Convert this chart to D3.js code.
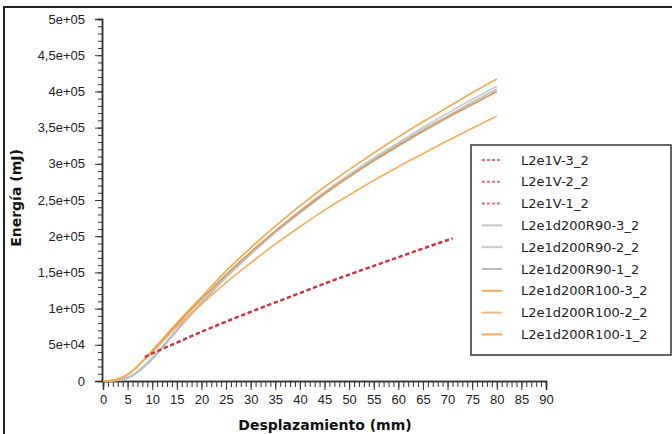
<!DOCTYPE html>
<html>
<head>
<meta charset="utf-8">
<script src="https://cdn.jsdelivr.net/npm/d3@7"></script>
<style>
  body { margin: 0; background: #fff; }
  svg { display: block; font-family: "DejaVu Sans", Verdana, sans-serif; }
</style>
</head>
<body>
<div id="chart"></div>
<script>
// series data (x in mm, y in mJ)
var seriesNames = ['L2e1V-3_2', 'L2e1V-2_2', 'L2e1V-1_2',
  'L2e1d200R90-3_2', 'L2e1d200R90-2_2', 'L2e1d200R90-1_2',
  'L2e1d200R100-3_2', 'L2e1d200R100-2_2', 'L2e1d200R100-1_2'];

var xV = [8.5, 10, 15, 20, 25, 30, 35, 40, 45, 50, 55, 60, 65, 71];
var yV3 = [33000, 38000, 53000, 68000, 82000, 95500, 108500, 121500, 134500, 147000, 159000, 171000, 183000, 197000];
var yV2 = [32500, 37500, 52500, 67500, 81500, 95000, 108000, 121000, 134000, 146500, 158500, 170500, 182500, 196000];
var yV1 = [33500, 38500, 53500, 68500, 82500, 96000, 109000, 122000, 135000, 147500, 159500, 171500, 183500, 197500];

var xR = [0, 2, 4, 6, 8, 10, 12, 15, 20, 25, 30, 35, 40, 45, 50, 55, 60, 65, 70, 75, 80];
var yR90_3 = [0, 500, 2000, 7000, 17000, 30000, 45000, 69000, 107000, 143000, 175000, 205000, 232000, 258000, 282000, 304000, 325000, 345000, 364000, 382000, 400000];
var yR90_2 = [0, 500, 2500, 8000, 19000, 32000, 47000, 71000, 109000, 145000, 177000, 207000, 235000, 261000, 285000, 308000, 329000, 350000, 370000, 389000, 407000];
var yR90_1 = [0, 500, 2000, 7500, 18000, 31000, 46000, 70000, 108000, 144000, 176000, 206000, 233000, 259000, 283000, 306000, 327000, 347000, 366000, 385000, 403000];
var yR100_3 = [0, 1000, 5000, 14000, 27000, 42000, 57000, 80000, 116000, 152000, 184000, 214000, 242000, 268000, 292000, 315000, 337000, 358000, 378000, 398000, 417000];
var yR100_2 = [0, 1000, 5000, 14000, 27000, 41000, 56000, 78000, 113000, 147000, 178000, 207000, 234000, 259000, 282000, 304000, 325000, 345000, 364000, 382000, 400000];
var yR100_1 = [0, 1000, 5000, 14000, 27000, 40000, 54000, 75000, 106000, 136000, 163000, 189000, 213000, 236000, 257000, 277000, 296000, 314000, 332000, 349000, 366000];

var xTicks = [0, 5, 10, 15, 20, 25, 30, 35, 40, 45, 50, 55, 60, 65, 70, 75, 80, 85, 90];
var yTicks = [0, 50000, 100000, 150000, 200000, 250000, 300000, 350000, 400000, 450000, 500000];
var yTickLabels = ['0', '5e+04', '1e+05', '1,5e+05', '2e+05', '2,5e+05', '3e+05', '3,5e+05', '4e+05', '4,5e+05', '5e+05'];

var width = 672, height = 434;

var series = [
  { name: seriesNames[3], xs: xR, ys: yR90_3, color: '#c4c4c4', dash: null },
  { name: seriesNames[4], xs: xR, ys: yR90_2, color: '#c9c9c9', dash: null },
  { name: seriesNames[5], xs: xR, ys: yR90_1, color: '#bdbdbd', dash: null },
  { name: seriesNames[6], xs: xR, ys: yR100_3, color: '#f0ac55', dash: null },
  { name: seriesNames[7], xs: xR, ys: yR100_2, color: '#dc9c5c', dash: null },
  { name: seriesNames[8], xs: xR, ys: yR100_1, color: '#f2b060', dash: null },
  { name: seriesNames[0], xs: xV, ys: yV3, color: '#d8323e', dash: '4,3' },
  { name: seriesNames[1], xs: xV, ys: yV2, color: '#d8323e', dash: '4,3' },
  { name: seriesNames[2], xs: xV, ys: yV1, color: '#d8323e', dash: '4,3' }
];

var svg = d3.select('#chart').append('svg')
  .attr('width', width)
  .attr('height', height);

// outer frame (top and left edges visible)
svg.append('line').attr('x1', 3).attr('x2', width).attr('y1', 7).attr('y2', 7)
  .attr('stroke', '#222').attr('stroke-width', 2);
svg.append('line').attr('x1', 4).attr('x2', 4).attr('y1', 7).attr('y2', height)
  .attr('stroke', '#222').attr('stroke-width', 2);

var x = d3.scaleLinear().domain([0, 90]).range([103, 546]);
var y = d3.scaleLinear().domain([0, 500000]).range([381, 19]);

// y axis: minor then major ticks
svg.append('g').attr('transform', 'translate(102,0)')
  .call(d3.axisLeft(y).tickValues(d3.range(0, 500001, 10000)).tickSize(4).tickFormat(''));
svg.append('g').attr('transform', 'translate(102,0)')
  .call(d3.axisLeft(y).tickValues(yTicks).tickSize(7).tickPadding(10)
    .tickFormat(function(d, i) { return yTickLabels[i]; }));

// x axis
svg.append('g').attr('transform', 'translate(0,381)')
  .call(d3.axisBottom(x).tickValues(d3.range(0, 91, 1)).tickSize(6).tickFormat(''));
svg.append('g').attr('transform', 'translate(0,381)')
  .call(d3.axisBottom(x).tickValues(xTicks).tickSize(9).tickPadding(5));

svg.selectAll('.domain').attr('stroke', '#333').attr('stroke-width', 1.5);
svg.selectAll('.tick line').attr('stroke', '#333');
svg.selectAll('.tick text').attr('fill', '#222').style('font-size', '13px');

// axis titles
svg.append('text')
  .attr('x', 325).attr('y', 430)
  .attr('text-anchor', 'middle')
  .style('font-size', '14px').style('font-weight', 'bold').attr('fill', '#111')
  .text('Desplazamiento (mm)');
svg.append('text')
  .attr('transform', 'translate(21,198) rotate(-90)')
  .attr('text-anchor', 'middle')
  .style('font-size', '14px').style('font-weight', 'bold').attr('fill', '#111')
  .text('Energía (mJ)');

// curves
var line = d3.line()
  .x(function(d) { return x(d[0]); })
  .y(function(d) { return y(d[1]); })
  .curve(d3.curveMonotoneX);

svg.selectAll('path.curve')
  .data(series)
  .enter()
  .append('path')
  .attr('class', 'curve')
  .attr('fill', 'none')
  .attr('stroke', function(d) { return d.color; })
  .attr('stroke-width', 1.7)
  .attr('stroke-dasharray', function(d) { return d.dash; })
  .attr('d', function(d) {
    return line(d.xs.map(function(v, i) { return [v, d.ys[i]]; }));
  });

// legend
var legendOrder = [6, 7, 8, 0, 1, 2, 3, 4, 5];
var legend = svg.append('g');
legend.append('rect')
  .attr('x', 471).attr('y', 145).attr('width', 200).attr('height', 210)
  .attr('fill', '#fff').attr('stroke', '#333').attr('stroke-width', 1.5);

var rows = legend.selectAll('g.row')
  .data(legendOrder.map(function(k) { return series[k]; }))
  .enter()
  .append('g')
  .attr('class', 'row')
  .attr('transform', function(d, i) { return 'translate(0,' + (160 + i * 21.8) + ')'; });

rows.append('line')
  .attr('x1', 482).attr('x2', 502)
  .attr('stroke', function(d) { return d.dash ? '#e0707e' : (d.color === '#dc9c5c' ? '#f2b87c' : d.color); })
  .attr('stroke-width', 2)
  .attr('stroke-dasharray', function(d) { return d.dash ? '3,2' : null; });

rows.append('text')
  .attr('x', 521).attr('y', 0).attr('dy', '0.35em')
  .style('font-size', '13px').attr('fill', '#222')
  .text(function(d) { return d.name; });
</script>
</body>
</html>
